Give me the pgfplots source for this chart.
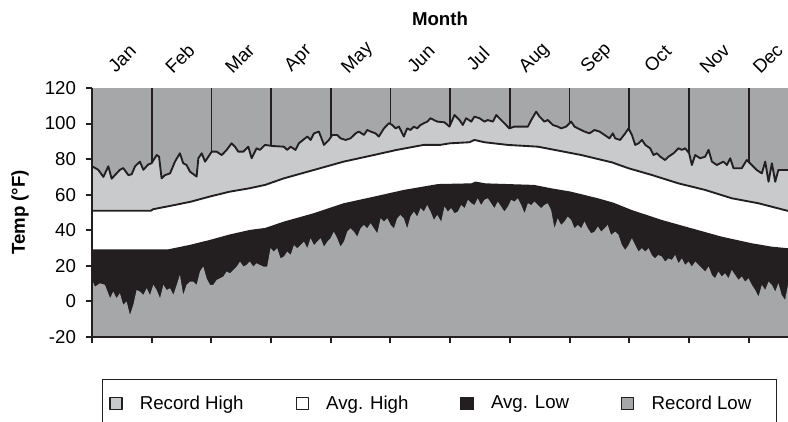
\documentclass[border=0pt]{standalone}
\usepackage{fontspec}
\setmainfont{Liberation Sans}
\usepackage{pgfplots}
\pgfplotsset{compat=1.18}
\usepackage{pgfplotstable}

\definecolor{cDark}{HTML}{A6A7A9}
\definecolor{cLight}{HTML}{C9CACC}
\definecolor{cBlack}{HTML}{231F20}

% record high (day, degF); closed down to -20 for the fill
\pgfplotstableread{
x y
0 -20
0 76
3.2 74
5.8 70
8.3 76
10 69
12.5 72
14.2 74
15.9 75
18.5 71
20.2 71.5
21.9 76
24.4 78.6
26.1 74
28.6 77
30.3 77.7
32.9 82.3
34.1 81.4
35.4 69.2
37.1 71
39.7 72
42.2 78.6
44.7 83.3
46.4 77.7
48.1 76.7
49.8 73
53.2 70.2
54.1 80.5
55.8 83.3
57.5 78.6
59.2 81.4
60.9 84.2
63.4 84.2
66 82.3
68.5 85.2
71 88.9
72.7 87
74.4 84.2
77 84.2
79.5 87
81.2 80.5
83.7 86.1
85.4 85.2
88 88
91.7 87.4
97.6 87
99.3 85.2
101 87
103.5 85.2
105.2 88.9
109.5 92.7
111.2 90.8
112.9 94.5
115.4 95.5
118 88
120.5 90.8
122.2 93.6
124.7 93.6
126.4 91.7
129 90.8
131.5 91.7
134.1 94.5
135.7 95.5
138.3 93.6
140 96.4
141.7 95.5
144.2 94.5
145.9 92.7
148.5 97.3
151 100.2
152.7 99.2
154.4 97.3
156.1 98.3
158.6 92.7
160.3 97.3
162 96.4
163.7 98.3
165.4 97.3
167.1 99.2
168.8 100.2
170.5 101.1
172.2 103
173.9 102
175.6 101.1
179.3 100.7
181.8 98.3
184.4 104.8
186.9 102
188.6 99.2
190.3 103
192.9 101.1
194.5 103.9
197.1 103
199.6 101.1
201.3 102
203.9 101.1
205.6 104.8
208.1 102
210.6 99.2
212.3 97.3
214.9 98.3
218.3 98.3
221.7 98.3
223.4 102
225.9 106.7
227.6 103.9
230.1 101.1
231.8 102
234.4 99.2
236.9 98.3
238.6 97.3
241.2 98.3
243.7 101.1
245.4 98.3
247.1 97.3
250.5 95.5
253 94.5
255.6 96.4
258.1 95.5
260.7 93.6
263.2 91.7
264.9 94.5
266.1 91.7
268.6 90.8
271.2 94.5
272.9 97.3
274.6 93.6
276.3 88
278 88.9
279.7 90.8
281.4 88
283.9 86.1
285.6 82.3
287.3 83.3
289 81.4
291.5 79.5
293.2 81.4
295.8 83.3
298.3 86.1
300 85.2
301.7 86.1
303.7 83.3
305.1 76.7
306.8 82.3
309.3 80.5
311.9 81.4
313.6 85.2
315.3 78.6
317.8 76.7
319.5 77.7
321.2 78.6
322.9 76.7
324.6 80.5
326.3 74.9
330.5 74.9
333 79.5
335.6 76.7
338.1 73.9
340.7 72
342.4 78.6
344.1 67.3
345.8 77.7
347.5 67.3
349.1 73.9
350.8 73.9
356 73.9
356 -20
}\rechigh

\pgfplotstableread{
x y
0 -20
0 51
30 51
31 51.8
41 54
50 56
60 59
70 61.7
80 63.6
88 65.5
97.6 69.2
112.8 73.9
128 78.6
143.3 82.3
155 85.2
168.7 88
177 88
182 88.9
192 89.5
194.5 90.8
199.6 89.5
211.5 88
226.8 87
235.3 85.2
248.9 82.3
264.4 78.2
272.8 74.9
284.7 71.1
298.2 66.4
311.8 62.7
325.4 58
338.9 55.2
354 50.9
356 50.9
356 -20
}\avghigh

\pgfplotstableread{
x y
0 -20
0 29.3
38.8 29.3
49.8 31.8
60 34.6
70.2 37.7
80.3 40.2
88 41.3
97.6 44.9
112.8 49.6
128 55.2
143.3 58.9
158.6 62.7
176 66
193 66.4
195 67.4
200 66.4
225 65.5
233.6 63.6
243.7 61.7
257.3 58
265 55.6
274.5 51.4
289.8 45.8
305 41.1
320.3 36.4
335.6 32.7
345.7 30.8
354 29.9
356 29.9
356 -20
}\avglow

\pgfplotstableread{
x y
0 -20
0 12.1
1.5 8.3
4.1 10.2
6.6 9.3
9.2 1.8
10.8 5.5
12.5 1.8
14.2 4.6
15.9 -2
17.6 -0.1
19.3 -7.6
21 -2
22.7 6.4
24.4 5.5
26.1 3.6
27.8 7.4
29.5 3.6
31.2 9.3
32.9 6.4
34.6 1.8
36.3 9.3
38 6.4
39.7 7.4
41.4 3.6
43.1 9.3
44.7 14.9
46.4 3.6
48.1 9.3
49.8 11.1
51.5 11.1
53.2 9.3
54.9 16.8
56.6 19.6
58.3 13
60 9.3
61.7 9.3
63.4 12.1
65.1 13
66.8 14
68.5 16.8
70.2 15.8
71.9 17.7
73.6 19.6
75.3 22.4
77 19.6
78.6 20.5
80.3 22.4
82 19.6
83.7 21.4
85.4 20.5
87.1 19.6
89.1 19.6
90.8 29.9
92.5 28
94.2 29.9
95.9 24.2
97.6 25.2
99.3 28
101 26.1
102.7 31.7
104.4 29.9
106.1 31.7
107.8 33.6
109.5 29.9
111.2 35.5
112.9 31.7
114.6 33.6
116.3 35.5
118 30.8
119.7 33.6
121.3 35.5
123 39.2
124.7 35.5
126.4 30.8
128.1 33.6
129.8 39.2
131.5 41.1
133.2 39.2
134.9 36.4
136.6 41.1
138.3 43
140 41.1
141.7 43.9
143.4 41.1
145.1 38.3
146.8 46.7
148.5 44.9
150.2 46.7
151.9 43
153.6 41.1
155.2 46.7
156.9 48.6
158.6 46.7
160.3 41.1
162 47.7
163.7 50.5
165.4 47.7
167.1 52.4
168.8 50.5
170.5 54.2
172.2 50.5
173.9 45.8
175.6 48.6
177.6 44.9
179.3 53.3
181 50.5
182.7 52.4
184.4 49.6
186.1 50.5
187.8 54.2
189.5 52.4
191.2 57.1
192.9 55.2
194.5 54.2
196.2 58
197.9 54.2
199.6 57.1
201.3 58
203 55.2
204.7 52.4
206.4 56.1
208.1 53.3
209.8 50.5
211.5 53.3
213.2 57.1
214.9 56.1
216.6 58
218.3 54.2
220 49.6
221.7 55.2
223.4 54.2
225.1 56.1
226.8 54.2
228.5 52.4
230.1 54.2
231.8 55.2
233.5 51.4
235.2 41.1
236.9 46.7
238.6 43
240.3 44.9
242 47.7
243.7 45.8
245.4 41.1
247.1 43
248.8 41.1
250.5 44.9
252.2 41.1
253.9 38.3
255.6 39.2
257.3 42.1
259 39.2
260.7 41.1
262.3 43
264 37.4
266.1 39.2
267.8 37.4
269.5 31.7
271.2 28.9
272.9 31.7
274.6 35.5
276.3 31.7
278 28
279.7 29.9
281.4 28
283.1 29.9
284.7 26.1
286.4 24.2
288.1 26.1
289.8 25.2
291.5 22.4
293.2 24.2
294.9 23.3
296.6 26.1
298.3 21.4
300 24.2
301.7 20.5
303.4 22.4
305.1 19.6
306.8 22.4
308.5 20.5
310.2 18.6
311.9 16.8
313.6 19.6
315.3 14.9
316.9 13
318.6 16.8
320.3 14
322 15.8
323.7 13
325.4 17.7
327.1 14.9
328.8 12.1
330.5 14
332.2 11.1
333.9 13
335.6 9.3
337.3 6.4
339 2.7
340.7 9.3
342.4 6.4
344.1 11.1
345.8 9.3
347.5 5.5
349.1 10.2
350.8 3.6
352.5 0.8
354 9.3
356 9.3
356 -20
}\reclow

\begin{document}
\begin{tikzpicture}[font=\fontsize{14}{16.8}\selectfont]
\begin{axis}[
    name=main,
    scale only axis,
    width=522pt, height=186.75pt,
    xmin=0, xmax=354,
    ymin=-20, ymax=120,
    axis on top,
    axis x line*=bottom,
    axis y line*=left,
    axis line style={line width=1.5pt, cBlack},
    xtick={0,30.36,60.73,91.09,121.45,151.82,182.18,212.55,242.91,273.27,303.64,334},
    xticklabels={},
    ytick={-20,0,20,40,60,80,100,120},
    tick align=outside,
    major tick length=4.5pt,
    every tick/.style={cBlack, line width=1.5pt},
    /pgf/number format/assume math mode=true,
    tick label style={font=\fontsize{14}{16.8}\selectfont},
    yticklabel style={xshift=-4pt},
    axis background/.style={fill=cDark},
    ylabel={\bfseries Temp (°F)},
    every axis y label/.style={at={(axis description cs:-0.1034,0.5)},
        rotate=90, anchor=center, font=\fontsize{14}{16.8}\selectfont},
    legend columns=4,
    legend style={at={(axis description cs:0.0144,-0.1687)}, anchor=north west,
        draw=cBlack, line width=1pt, inner xsep=5pt, inner ysep=10pt,
        font=\fontsize{14}{16.8}\selectfont,
        /tikz/every odd column/.append style={column sep=11pt},
        /tikz/every even column/.append style={column sep=37pt}},
    legend image code/.code={\draw[#1, draw=cBlack, line width=0.9pt]
        (0pt,-4.5pt) rectangle (9pt,4.5pt);},
]
% month grid lines, hidden below the record high area
\addplot[ycomb, forget plot, line width=1.3pt, cBlack] coordinates {
    (30.36,120) (60.73,120) (91.09,120) (121.45,120) (151.82,120) (182.18,120)
    (212.55,120) (242.91,120) (273.27,120) (303.64,120) (334,120)};

\addplot[fill=cLight, draw=cBlack, line width=1.4pt, line join=round] table {\rechigh};
\addlegendentry{Record High}
\addplot[fill=white, draw=cBlack, line width=1.4pt, line join=round] table {\avghigh};
\addlegendentry{Avg. High}
\addplot[fill=cBlack, draw=none] table {\avglow};
\addlegendentry{Avg. Low}
\addplot[fill=cDark, draw=none] table {\reclow};
\addlegendentry{Record Low\hspace*{12pt}}
\end{axis}

% month names and title along the top
\begin{axis}[
    scale only axis,
    width=522pt, height=186.75pt,
    xmin=0, xmax=354,
    ymin=-20, ymax=120,
    hide y axis,
    axis x line*=top,
    axis line style={draw=none},
    xtick={15.3,44.7,75.2,105.2,135.2,167.3,196.2,225.2,256.7,287.7,316.7,343.7},
    xticklabels={Jan,Feb,Mar,Apr,May,Jun,Jul,Aug,Sep,Oct,Nov,Dec},
    major tick length=0pt,
    xticklabel style={rotate=45, anchor=center, font=\fontsize{14}{16.8}\selectfont},
    xticklabel shift=22pt,
    title={\bfseries Month},
    every axis title/.style={at={(axis description cs:0.5,1)}, anchor=center,
        yshift=51.75pt, font=\fontsize{14}{16.8}\selectfont},
]
\end{axis}

\pgfresetboundingbox
\path[use as bounding box] ([xshift=-69pt,yshift=-63pt]main.south west)
    rectangle ([yshift=66pt]main.north east);
\end{tikzpicture}
\end{document}
